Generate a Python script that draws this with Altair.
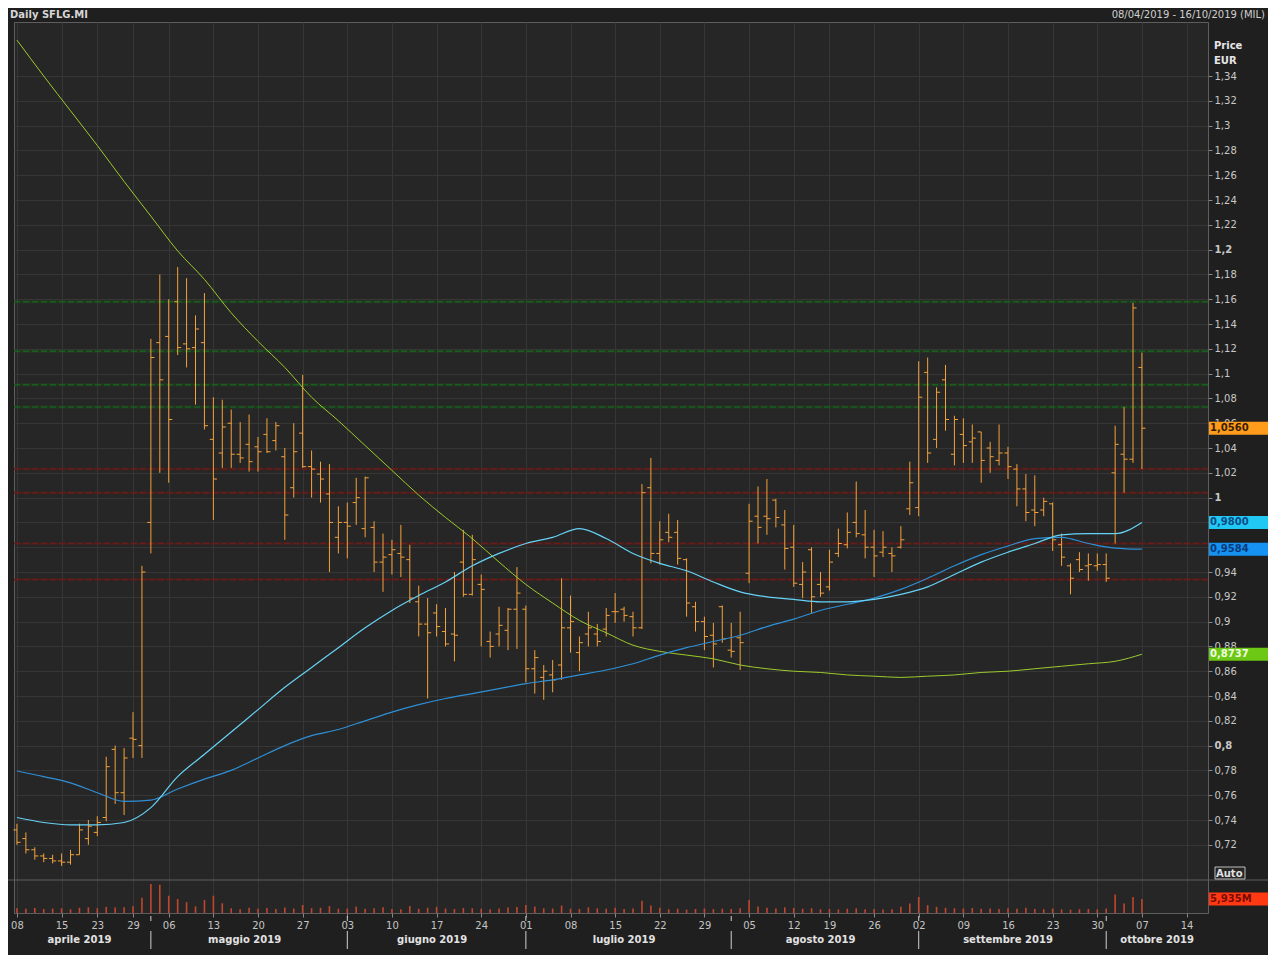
import altair as alt
import pandas as pd

# ---------------- data (trading days 08/04/2019 .. 07/10/2019) ----------------
opens = [0.732, 0.725, 0.716, 0.711, 0.709, 0.707, 0.706, 0.712, 0.725, 0.730,
         0.742, 0.797, 0.762, 0.806, 0.800, 0.980, 1.125, 1.130, 1.158, 1.124,
         1.121, 1.125, 1.047, 1.036, 1.060, 1.035, 1.043, 1.041, 1.051, 1.046,
         1.033, 1.008, 1.052, 1.025, 1.019, 1.003, 0.968, 0.980, 0.996, 0.975,
         0.976, 0.948, 0.954, 0.955, 0.950, 0.916, 0.898, 0.907, 0.892, 0.890,
         0.948, 0.922, 0.930, 0.884, 0.890, 0.893, 0.910, 0.910, 0.862, 0.855,
         0.857, 0.865, 0.895, 0.875, 0.890, 0.890, 0.894, 0.908, 0.910, 0.904,
         0.895, 1.008, 0.955, 0.972, 0.972, 0.950, 0.912, 0.900, 0.889, 0.912,
         0.877, 0.887, 0.939, 0.985, 0.985, 0.998, 0.978, 0.960, 0.930, 0.958,
         0.930, 0.928, 0.955, 0.962, 0.980, 0.970, 0.960, 0.956, 0.955, 0.960,
         0.991, 0.992, 1.101, 1.047, 1.095, 1.035, 1.051, 1.045, 1.053, 1.040,
         1.030, 1.036, 1.023, 1.007, 0.990, 0.990, 0.995, 0.962, 0.945, 0.950,
         0.945, 0.945, 0.946, 1.020, 1.035, 1.031, 1.105]
highs = [0.737, 0.730, 0.718, 0.713, 0.712, 0.713, 0.716, 0.737, 0.740, 0.743,
         0.791, 0.800, 0.798, 0.827, 0.945, 1.128, 1.180, 1.160, 1.186, 1.177,
         1.147, 1.165, 1.081, 1.079, 1.071, 1.061, 1.067, 1.049, 1.064, 1.061,
         1.040, 1.060, 1.099, 1.038, 1.029, 1.027, 0.993, 0.996, 1.016, 1.017,
         0.981, 0.971, 0.966, 0.978, 0.962, 0.929, 0.919, 0.914, 0.911, 0.940,
         0.974, 0.970, 0.938, 0.892, 0.912, 0.911, 0.944, 0.913, 0.877, 0.865,
         0.869, 0.935, 0.921, 0.888, 0.908, 0.898, 0.911, 0.923, 0.912, 0.908,
         1.011, 1.032, 0.981, 0.987, 0.982, 0.951, 0.916, 0.904, 0.899, 0.913,
         0.899, 0.908, 0.995, 1.009, 1.015, 0.999, 0.990, 0.978, 0.948, 0.960,
         0.940, 0.958, 0.975, 0.988, 1.013, 0.990, 0.974, 0.973, 0.960, 0.977,
         1.029, 1.110, 1.113, 1.089, 1.107, 1.066, 1.064, 1.059, 1.053, 1.045,
         1.059, 1.041, 1.027, 1.019, 1.018, 1.000, 0.996, 0.971, 0.947, 0.956,
         0.955, 0.955, 0.955, 1.058, 1.073, 1.157, 1.117]
lows = [0.720, 0.713, 0.708, 0.706, 0.705, 0.703, 0.704, 0.712, 0.720, 0.727,
        0.739, 0.753, 0.744, 0.790, 0.790, 0.955, 1.020, 1.012, 1.115, 1.105,
        1.075, 1.055, 0.982, 1.024, 1.024, 1.028, 1.021, 1.021, 1.036, 1.038,
        0.966, 1.000, 1.024, 1.000, 0.996, 0.940, 0.955, 0.951, 0.978, 0.968,
        0.940, 0.924, 0.938, 0.936, 0.915, 0.888, 0.838, 0.888, 0.880, 0.868,
        0.920, 0.921, 0.880, 0.871, 0.880, 0.877, 0.878, 0.851, 0.842, 0.837,
        0.843, 0.853, 0.875, 0.860, 0.880, 0.880, 0.888, 0.899, 0.900, 0.888,
        0.894, 0.947, 0.946, 0.964, 0.946, 0.904, 0.892, 0.877, 0.863, 0.883,
        0.871, 0.861, 0.931, 0.963, 0.970, 0.976, 0.942, 0.928, 0.919, 0.907,
        0.920, 0.925, 0.952, 0.959, 0.968, 0.951, 0.936, 0.952, 0.940, 0.959,
        0.986, 0.985, 1.028, 1.040, 1.054, 1.026, 1.028, 1.028, 1.012, 1.020,
        1.026, 1.015, 0.993, 0.981, 0.977, 0.985, 0.957, 0.945, 0.922, 0.940,
        0.933, 0.941, 0.932, 0.963, 1.004, 1.028, 1.023]
closes = [0.722, 0.716, 0.711, 0.709, 0.707, 0.706, 0.712, 0.732, 0.735, 0.738,
          0.783, 0.762, 0.790, 0.805, 0.940, 1.113, 1.095, 1.063, 1.121, 1.120,
          1.136, 1.058, 1.015, 1.057, 1.035, 1.032, 1.029, 1.037, 1.037, 1.058,
          0.986, 1.037, 1.025, 1.023, 1.015, 0.980, 0.980, 0.977, 1.000, 1.016,
          0.948, 0.952, 0.958, 0.952, 0.919, 0.898, 0.891, 0.896, 0.882, 0.889,
          0.922, 0.950, 0.926, 0.880, 0.897, 0.910, 0.923, 0.862, 0.871, 0.860,
          0.853, 0.895, 0.900, 0.883, 0.895, 0.884, 0.905, 0.908, 0.905, 0.895,
          1.004, 0.955, 0.966, 0.968, 0.951, 0.915, 0.900, 0.888, 0.882, 0.886,
          0.876, 0.883, 0.981, 0.976, 0.983, 0.984, 0.959, 0.931, 0.940, 0.920,
          0.923, 0.948, 0.963, 0.972, 0.971, 0.960, 0.953, 0.960, 0.953, 0.966,
          1.012, 1.081, 1.036, 1.085, 1.063, 1.063, 1.042, 1.048, 1.030, 1.033,
          1.036, 1.025, 1.007, 0.988, 0.988, 0.997, 0.966, 0.952, 0.935, 0.942,
          0.946, 0.946, 0.935, 1.043, 1.031, 1.153, 1.056]
volumes = [2.0, 1.8, 2.1, 1.7, 1.9, 2.0, 1.6, 2.2, 2.4, 2.0,
           2.6, 2.3, 2.4, 2.9, 6.4, 12.3, 11.9, 7.3, 5.9, 4.6,
           2.8, 5.5, 7.3, 4.1, 2.0, 1.6, 2.2, 1.8, 2.1, 1.7,
           2.3, 1.9, 3.4, 2.0, 2.2, 2.9, 1.8, 1.9, 2.7, 1.8,
           2.0, 2.4, 1.7, 1.6, 2.9, 1.8, 2.2, 2.6, 1.9, 1.7,
           2.1, 2.0, 1.8, 1.6, 1.9, 2.3, 2.5, 3.4, 2.7, 2.0,
           1.9, 3.1, 1.8, 1.7, 2.4, 2.0, 1.8, 2.2, 1.7, 1.9,
           5.2, 3.2, 2.2, 1.6, 1.8, 1.4, 1.7, 1.9, 1.6, 1.8,
           1.7, 2.0, 5.5, 2.7, 2.2, 1.9, 2.4, 2.1, 1.8, 2.0,
           1.6, 1.7, 1.5, 1.8, 2.0, 1.6, 1.7, 1.5, 1.6, 2.6,
           4.0, 6.8, 3.3, 2.6, 2.2, 2.0, 1.9, 2.1, 1.8, 1.9,
           1.7, 2.0, 1.8, 2.2, 1.7, 1.6, 1.9, 1.5, 1.4, 1.6,
           1.7, 1.5, 1.9, 7.8, 4.0, 6.8, 5.935]

ma_idx = list(range(0, 127, 3))
ma_green = [1.369, 1.340, 1.312, 1.284, 1.255, 1.227, 1.199, 1.176, 1.149, 1.126,
            1.105, 1.081, 1.062, 1.042, 1.022, 1.002, 0.984, 0.967, 0.948, 0.930,
            0.915, 0.901, 0.891, 0.881, 0.876, 0.873, 0.870, 0.865, 0.862, 0.860,
            0.859, 0.857, 0.856, 0.855, 0.856, 0.857, 0.859, 0.860, 0.862, 0.864,
            0.866, 0.868, 0.8737]
ma_short = [0.742, 0.738, 0.736, 0.736, 0.738, 0.750, 0.775, 0.793, 0.811, 0.829,
            0.847, 0.863, 0.879, 0.895, 0.909, 0.921, 0.932, 0.945, 0.955, 0.963,
            0.968, 0.975, 0.967, 0.955, 0.947, 0.941, 0.932, 0.924, 0.920, 0.918,
            0.916, 0.916, 0.918, 0.922, 0.928, 0.938, 0.948, 0.956, 0.963, 0.970,
            0.971, 0.971, 0.980]
ma_long = [0.7795, 0.775, 0.770, 0.762, 0.755, 0.756, 0.765, 0.773, 0.780, 0.790,
           0.800, 0.808, 0.813, 0.820, 0.827, 0.833, 0.838, 0.842, 0.846, 0.850,
           0.853, 0.857, 0.861, 0.866, 0.873, 0.879, 0.884, 0.889, 0.896, 0.902,
           0.909, 0.914, 0.919, 0.926, 0.935, 0.945, 0.954, 0.961, 0.967, 0.968,
           0.963, 0.9593, 0.9584]

levels_green = [1.158, 1.118, 1.091, 1.073]
levels_red = [1.023, 1.004, 0.963, 0.934]

tick_idx = [0, 5, 9, 13, 17, 22, 27, 32, 37, 42, 47, 52, 57, 62, 67, 72, 77, 82, 87,
            91, 96, 101, 106, 111, 116, 121, 126, 131]
tick_labels = ["08", "15", "23", "29", "06", "13", "20", "27", "03", "10", "17", "24",
               "01", "08", "15", "22", "29", "05", "12", "19", "26", "02", "09", "16",
               "23", "30", "07", "14"]
month_names = ["aprile 2019", "maggio 2019", "giugno 2019", "luglio 2019",
               "agosto 2019", "settembre 2019", "ottobre 2019"]
month_start = [0, 15, 37, 57, 80, 101, 122]
price_ticks = [round(0.72 + 0.02 * k, 2) for k in range(32)]
hidden_price_labels = [0.98, 0.96]   # fully covered by the value tags in the reference

price_tags = [1.056, 0.98, 0.9584, 0.8737]
price_tag_text = ["1,0560", "0,9800", "0,9584", "0,8737"]
price_tag_bg = ["#ff9c1c", "#22c8f4", "#1592f2", "#6cc814"]
price_tag_fg = ["#3a1c00", "#0b4c86", "#083a7a", "#f0ffe0"]
vol_tag = 5.935
vol_tag_text = "5,935M"

# ---------------- geometry ----------------
W, H = 1194, 891
X_DOM = [-0.33, 133.4]
P_DOM = [0.665, 1.3836]
V_DOM = [0, 376.5]
FONT = "DejaVu Sans"

ohlc = pd.DataFrame({"i": list(range(len(opens))), "o": opens, "h": highs,
                     "l": lows, "c": closes, "v": volumes})
ma = pd.DataFrame({"i": ma_idx, "g": ma_green, "s": ma_short, "lg": ma_long})
levels = pd.DataFrame({"y": levels_green + levels_red,
                       "k": ["g"] * len(levels_green) + ["r"] * len(levels_red)})
ends = month_start[1:] + [X_DOM[1]]
months = pd.DataFrame({"m": month_names,
                       "x": [(s + (e if k == len(month_start) - 1 else e - 1)) / 2
                             for k, (s, e) in enumerate(zip(month_start, ends))]})
seps = pd.DataFrame({"x": [s for s in month_start[1:]]})
tags = pd.DataFrame({"y": price_tags, "t": price_tag_text,
                     "bg": price_tag_bg, "fg": price_tag_fg})
one = pd.DataFrame({"a": [0]})

xscale = alt.Scale(domain=X_DOM, nice=False, zero=False)
idx_list = ",".join(str(v) for v in tick_idx)
lab_list = ",".join("'%s'" % v for v in tick_labels)
xaxis = alt.Axis(values=tick_idx, title=None, grid=True, gridColor="#363636",
                 labelExpr="[%s][indexof([%s], datum.value)]" % (lab_list, idx_list),
                 tickSize=4, labelPadding=3, domain=False, labelFontSize=10,
                 labelColor="#c4c4c4", labelFont=FONT, labelFlush=False,
                 labelOverlap=False)
X = alt.X("i:Q", scale=xscale, axis=xaxis)

pscale = alt.Scale(domain=P_DOM, nice=False, zero=False)
hide_test = " || ".join("abs(datum.value - %s) < 0.001" % v for v in hidden_price_labels)
pfmt = "(%s) ? '' : replace(format(datum.value, '.2~f'), '.', ',')" % hide_test
paxis = alt.Axis(values=price_ticks, orient="right", title=None, grid=True,
                 gridColor="#363636", labelExpr=pfmt, tickSize=4, labelPadding=2,
                 domain=False, labelFontSize=10, labelColor="#c8c8c8", labelFont=FONT,
                 labelFontWeight={"condition": {"test": "abs(datum.value*5 - round(datum.value*5)) < 0.001",
                                                "value": "bold"}, "value": "normal"},
                 labelOverlap=False, labelFlush=False)


def Yp(f):
    return alt.Y(f, scale=pscale, axis=paxis)


base = alt.Chart(ohlc)
band_col = alt.Color("k:N", scale=alt.Scale(domain=["g", "r"], range=["#1a5e1e", "#6a1c18"]), legend=None)
dash_col = alt.Color("k:N", scale=alt.Scale(domain=["g", "r"], range=["#66f066", "#ff5548"]), legend=None)

lev_band = alt.Chart(levels).mark_rule(strokeWidth=3, opacity=0.3).encode(y=Yp("y:Q"), color=band_col)
lev_dash = alt.Chart(levels).mark_rule(strokeWidth=1.5, strokeDash=[6, 3]).encode(y=Yp("y:Q"), color=dash_col)

BAR = "#f4a23a"
hl = base.mark_rule(color=BAR, strokeWidth=1).encode(x=X, y=Yp("l:Q"), y2="h:Q")
op = base.transform_calculate(xl="datum.i - 0.4").mark_rule(color=BAR, strokeWidth=1).encode(
    x=alt.X("xl:Q", scale=xscale, axis=xaxis), x2="i:Q", y=Yp("o:Q"))
cl = base.transform_calculate(xr="datum.i + 0.4").mark_rule(color=BAR, strokeWidth=1).encode(
    x=X, x2="xr:Q", y=Yp("c:Q"))

mab = alt.Chart(ma)
line_g = mab.mark_line(color="#9ccb2c", strokeWidth=1, interpolate="monotone").encode(x=X, y=Yp("g:Q"))
line_l = mab.mark_line(color="#2f8fd6", strokeWidth=1.2, interpolate="monotone").encode(x=X, y=Yp("lg:Q"))
line_s = mab.mark_line(color="#66d2f5", strokeWidth=1.2, interpolate="monotone").encode(x=X, y=Yp("s:Q"))

tag_box = alt.Chart(tags).mark_rule(strokeWidth=13, strokeCap="butt").encode(
    x=alt.value(W + 1), x2=alt.value(W + 66), y=Yp("y:Q"),
    color=alt.Color("bg:N", scale=None))
tag_txt = alt.Chart(tags).mark_text(align="left", baseline="middle", fontSize=10,
                                    fontWeight="bold", font=FONT).encode(
    x=alt.value(W + 2), y=Yp("y:Q"), text="t:N", color=alt.Color("fg:N", scale=None))

price_layer = alt.layer(lev_band, lev_dash, hl, op, cl, line_g, line_l, line_s, tag_box, tag_txt)

vscale = alt.Scale(domain=V_DOM, nice=False, zero=True)
vol = base.mark_rule(color="#c2462c", strokeWidth=1.6).encode(
    x=X, y=alt.Y("v:Q", scale=vscale, axis=None), y2=alt.datum(0))
vdf = pd.DataFrame({"v": [vol_tag], "t": [vol_tag_text]})
vtag_box = alt.Chart(vdf).mark_rule(strokeWidth=13, strokeCap="butt", color="#ff3a12").encode(
    x=alt.value(W + 1), x2=alt.value(W + 66), y=alt.Y("v:Q", scale=vscale, axis=None))
vtag_txt = alt.Chart(vdf).mark_text(align="left", baseline="middle", fontSize=10, fontWeight="bold",
                                    font=FONT, color="#7a0a00").encode(
    x=alt.value(W + 2), y=alt.Y("v:Q", scale=vscale, axis=None), text="t:N")
vol_layer = alt.layer(vol, vtag_box, vtag_txt)

# fixed chrome of the terminal window
sep_line = alt.Chart(one).mark_rule(color="#5e5e5e", strokeWidth=1).encode(
    x=alt.value(-6), x2=alt.value(W + 64), y=alt.value(858))
auto_box = alt.Chart(one).mark_rect(fill="#262626", stroke="#bdbdbd", strokeWidth=1).encode(
    x=alt.value(W + 7), x2=alt.value(W + 37), y=alt.value(845), y2=alt.value(857))
auto_txt = alt.Chart(one).mark_text(text="Auto", align="left", baseline="middle", fontSize=10,
                                    fontWeight="bold", font=FONT, color="#e0e0e0").encode(
    x=alt.value(W + 8), y=alt.value(851.5))
price_hdr = alt.Chart(pd.DataFrame({"t": ["Price", "EUR"], "y": [24, 39]})).mark_text(
    align="left", baseline="middle", fontSize=10, fontWeight="bold", font=FONT, color="#e6e6e6").encode(
    x=alt.value(W + 6), y=alt.Y("y:Q", scale=None), text="t:N")
title_txt = alt.Chart(one).mark_text(text="Daily SFLG.MI", align="left", baseline="middle",
                                     fontSize=10, fontWeight="bold", font=FONT, color="#d6d6d6").encode(
    x=alt.value(-4), y=alt.value(-7))
range_txt = alt.Chart(one).mark_text(text="08/04/2019 - 16/10/2019 (MIL)", align="right",
                                     baseline="middle", fontSize=10, font=FONT, color="#cfcfcf").encode(
    x=alt.value(W + 57), y=alt.value(-7))
month_txt = alt.Chart(months).mark_text(baseline="middle", fontSize=10, fontWeight="bold",
                                        font=FONT, color="#e2e2e2").encode(
    x=alt.X("x:Q", scale=xscale, axis=xaxis), y=alt.value(H + 27), text="m:N")
sep_rules = alt.Chart(seps).mark_rule(color="#d0d0d0", strokeWidth=1).encode(
    x=alt.X("x:Q", scale=xscale, axis=xaxis), y=alt.value(H + 18), y2=alt.value(H + 36))
sep_ticks = alt.Chart(seps).mark_rule(color="#d0d0d0", strokeWidth=1).encode(
    x=alt.X("x:Q", scale=xscale, axis=xaxis), y=alt.value(H + 3), y2=alt.value(H + 8))

deco = alt.layer(sep_line, auto_box, auto_txt, price_hdr, title_txt, range_txt,
                 month_txt, sep_rules, sep_ticks)

chart = alt.layer(price_layer, vol_layer, deco).resolve_scale(y="independent").properties(
    width=W, height=H,
    padding={"left": 6, "top": 14, "right": 60, "bottom": 42},
    autosize=alt.AutoSizeParams(type="none"),
    background="#1f1f1f",
).configure_view(fill="#262626", stroke="#5e5e5e", strokeWidth=1)

chart.save("out.html", embed_options={"renderer": "svg", "actions": False})
